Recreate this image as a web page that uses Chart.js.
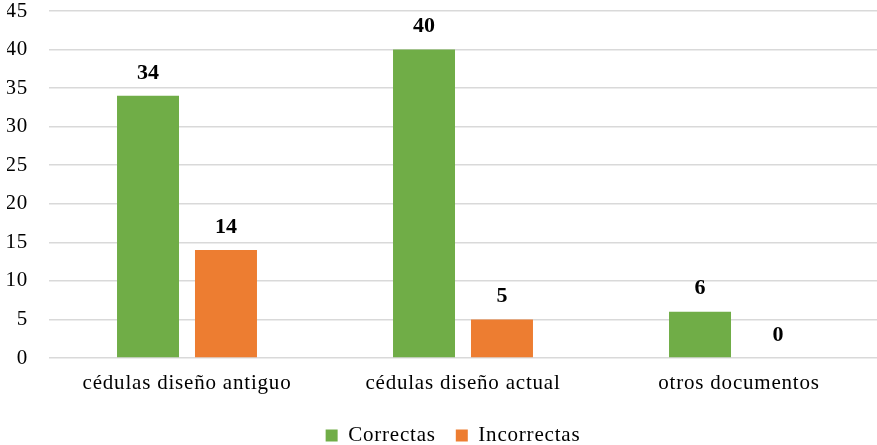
<!DOCTYPE html>
<html>
<head>
<meta charset="utf-8">
<script src="https://cdn.jsdelivr.net/npm/chart.js@4/dist/chart.umd.min.js"></script>
<style>
  html, body { margin: 0; padding: 0; background: #fff; }
  #wrap { width: 877px; height: 445px; }
</style>
</head>
<body>
<div id="wrap"><canvas id="chart"></canvas></div>
<script>
const categories = ['cédulas diseño antiguo', 'cédulas diseño actual', 'otros documentos'];
const correctas = [34, 40, 6];
const incorrectas = [14, 5, 0];
const yTicks = [0, 5, 10, 15, 20, 25, 30, 35, 40, 45];

const serif = '"Liberation Serif", "Times New Roman", serif';

// slightly wider text, closer to the office-style rendering
const spacing = {
  id: 'spacing',
  beforeLayout(chart) { chart.ctx.letterSpacing = '0.8px'; },
  beforeDraw(chart) { chart.ctx.letterSpacing = '0.8px'; }
};

// legend sits centred under the plot area rather than the canvas
const legendShift = {
  id: 'legendShift',
  afterLayout(chart) {
    chart.legend.left += 11;
    chart.legend.right += 11;
  }
};

// value labels above each bar
const barLabels = {
  id: 'barLabels',
  afterDatasetsDraw(chart) {
    const ctx = chart.ctx;
    ctx.save();
    ctx.letterSpacing = '0px';
    ctx.font = 'bold 22px ' + serif;
    ctx.fillStyle = '#000';
    ctx.textAlign = 'center';
    ctx.textBaseline = 'middle';
    chart.data.datasets.forEach((ds, i) => {
      chart.getDatasetMeta(i).data.forEach((bar, j) => {
        ctx.fillText(String(ds.data[j]), bar.x, bar.y - 23);
      });
    });
    ctx.restore();
  }
};

new Chart(document.getElementById('chart'), {
  type: 'bar',
  data: {
    labels: categories,
    datasets: [
      { label: 'Correctas', data: correctas, backgroundColor: '#70AD47' },
      { label: 'Incorrectas', data: incorrectas, backgroundColor: '#ED7D31' }
    ]
  },
  options: {
    responsive: true,
    maintainAspectRatio: false,
    animation: false,
    categoryPercentage: 0.565,
    barPercentage: 0.795,
    layout: { padding: { left: 7, top: 0, right: 0, bottom: -11 } },
    scales: {
      x: {
        grid: { display: false },
        border: { display: false },
        afterFit(axis) { axis.height = 47; },
        ticks: { color: '#000', padding: 5, font: { family: serif, size: 21 } }
      },
      y: {
        min: 0,
        max: 45,
        afterBuildTicks(axis) { axis.ticks = yTicks.map(v => ({ value: v })); },
        afterFit(axis) {
          axis.width = 42;
          axis.paddingTop = 11;
        },
        grid: { color: '#d9d9d9', lineWidth: 1.5, drawTicks: false },
        border: { display: false },
        ticks: { color: '#000', padding: 21, font: { family: serif, size: 21 } }
      }
    },
    plugins: {
      tooltip: { enabled: false },
      legend: {
        position: 'bottom',
        labels: {
          color: '#000',
          boxWidth: 12,
          boxHeight: 12,
          padding: 20,
          font: { family: serif, size: 21 }
        }
      }
    }
  },
  plugins: [spacing, legendShift, barLabels]
});
</script>
</body>
</html>
